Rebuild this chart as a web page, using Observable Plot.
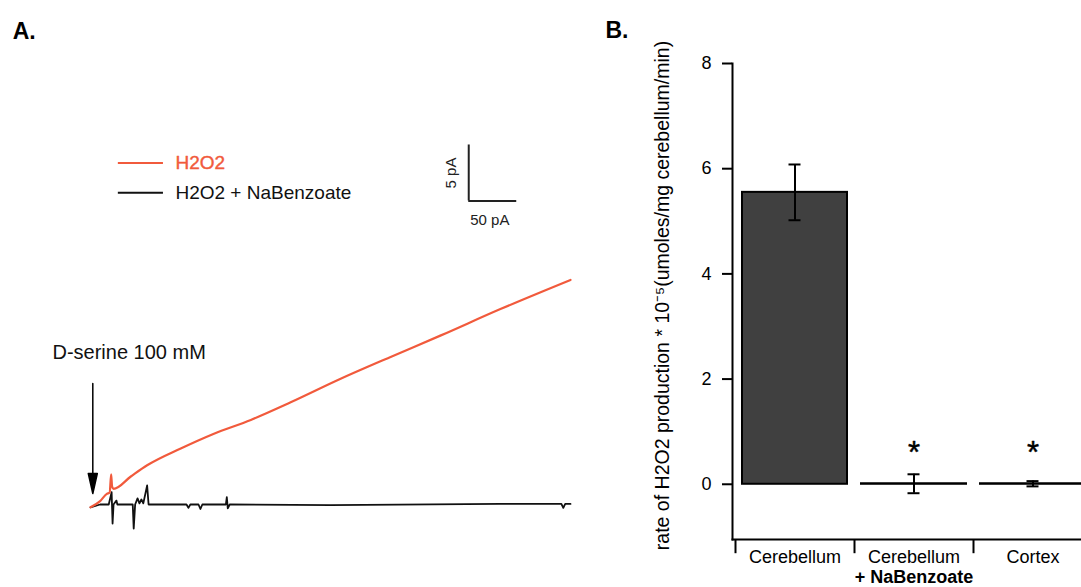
<!DOCTYPE html>
<html>
<head>
<meta charset="utf-8">
<script src="https://cdn.jsdelivr.net/npm/d3@7"></script>
<script src="https://cdn.jsdelivr.net/npm/@observablehq/plot@0.6"></script>
<style>
  html, body { margin: 0; padding: 0; background: white; }
  body { width: 1081px; height: 587px; overflow: hidden; position: relative; font-family: "Liberation Sans", Arial, sans-serif; }
  #panelA { position: absolute; left: 0; top: 0; width: 600px; height: 587px; }
  #panelB { position: absolute; left: 600px; top: 0; width: 481px; height: 587px; }
</style>
</head>
<body>
<div id="panelA"></div>
<div id="panelB"></div>
<script>
// ---------- Panel A: amperometric traces (time in s, current in pA) ----------
const redTime = [0, 10, 17, 20, 21.5, 22.5, 24, 42, 59, 94, 128, 167, 208, 260, 312, 365, 427, 500];
const redCurrent = [-0.25, 0.3, 0.95, 1.05, 2.7, 1.6, 1.4, 2.5, 3.5, 5.0, 6.3, 7.55, 9.1, 11.2, 13.15, 15.1, 17.45, 20.05];

const blackTime = [0, 10, 19, 22, 23, 24, 27, 28, 44, 45, 46.5, 49, 51, 53, 55, 59, 60.5, 100, 102, 104, 112.5, 114.5, 116.5, 141, 142, 143, 145, 250, 427, 490.5, 492.5, 494.5, 500];
const blackCurrent = [-0.25, 0, 0, 1.1, -1.7, 0, 0.35, 0, 0, -2.15, 0, 0.55, 0.1, 0.45, 0.1, 1.7, 0, 0, -0.3, 0, 0, -0.4, 0, 0, 0.65, -0.35, 0, -0.05, 0.05, 0.05, -0.3, 0.05, 0.05];

const seriesNames = ["H2O2", "H2O2 + NaBenzoate"];
const seriesColors = ["#f15a3c", "#111111"];
const stimulusLabel = "D-serine 100 mM";
const scaleBarTime = 50;      // labelled "50 pA" in the original
const scaleBarCurrent = 5;    // pA
const scaleBarLabels = ["5 pA", "50 pA"];

// ---------- Panel B: H2O2 production rate ----------
const categories = ["Cerebellum", "Cerebellum + NaBenzoate", "Cortex"];
const labelLine1 = ["Cerebellum", "Cerebellum", "Cortex"];
const labelLine2 = ["", "+ NaBenzoate", ""];
const rates = [5.55, 0.01, 0.01];
const errors = [0.53, 0.18, 0.05];
const significance = ["", "*", "*"];
const yTicks = [0, 2, 4, 6, 8];
const yLabel = "rate of H2O2 production * 10\u207B\u2075(umoles/mg cerebellum/min)";

const FONT = "Liberation Sans, Arial, sans-serif";

const red = redTime.map((t, i) => ({t, v: redCurrent[i]}));
const black = blackTime.map((t, i) => ({t, v: blackCurrent[i]}));

const arrowShape = {
  draw(context, l) {
    context.moveTo(0, 0);
    context.lineTo(0, -l + 18);
    context.moveTo(-4.5, -l + 20);
    context.lineTo(0, -l);
    context.lineTo(4.5, -l + 20);
    context.closePath();
  }
};

const sbX = 394, sbY = 27.1;

const plotA = Plot.plot({
  width: 600,
  height: 587,
  marginTop: 0, marginRight: 0, marginBottom: 0, marginLeft: 0,
  style: {fontFamily: FONT, background: "white", overflow: "visible"},
  x: {domain: [0, 500], range: [90, 570], axis: null},
  y: {domain: [0, 20], range: [504, 280], axis: null},
  marks: [
    Plot.line(black, {x: "t", y: "v", stroke: seriesColors[1], strokeWidth: 1.8, strokeLinejoin: "round"}),
    Plot.line(red, {x: "t", y: "v", stroke: seriesColors[0], strokeWidth: 2.2, strokeLinejoin: "round", curve: "monotone-x"}),
    // panel label
    Plot.text(["A."], {x: -81, y: 42.2, text: d => d, textAnchor: "start", lineAnchor: "middle", fontSize: 23, fontWeight: "bold", fill: "black"}),
    // legend
    Plot.ruleY([0], {y: 30.5, x1: 29, x2: 76, stroke: seriesColors[0], strokeWidth: 2}),
    Plot.ruleY([0], {y: 27.83, x1: 29, x2: 76, stroke: seriesColors[1], strokeWidth: 2}),
    Plot.text([seriesNames[0]], {x: 88.5, y: 30.5, text: d => d, textAnchor: "start", lineAnchor: "middle", fontSize: 19, fill: seriesColors[0], stroke: seriesColors[0], strokeWidth: 0.4}),
    Plot.text([seriesNames[1]], {x: 88.5, y: 27.83, text: d => d, textAnchor: "start", lineAnchor: "middle", fontSize: 19, fill: "#111"}),
    // scale bar
    Plot.ruleX([0], {x: sbX, y1: sbY, y2: sbY + scaleBarCurrent, stroke: "#222", strokeWidth: 2}),
    Plot.ruleY([0], {y: sbY, x1: sbX, x2: sbX + scaleBarTime, stroke: "#222", strokeWidth: 2}),
    Plot.text([scaleBarLabels[0]], {x: 376, y: 29.6, text: d => d, rotate: -90, textAnchor: "middle", lineAnchor: "middle", fontSize: 15, fill: "#222"}),
    Plot.text([scaleBarLabels[1]], {x: 416, y: 25.4, text: d => d, textAnchor: "middle", lineAnchor: "middle", fontSize: 15, fill: "#222"}),
    // stimulus marker
    Plot.text([stimulusLabel], {x: -39.6, y: 13.57, text: d => d, textAnchor: "start", lineAnchor: "middle", fontSize: 20, fill: "#111"}),
    Plot.vector([0], {x: 2.4, y: 10.8, length: 110, rotate: 180, anchor: "start", shape: arrowShape, fill: "black", stroke: "black", strokeWidth: 1.5})
  ]
});
document.getElementById("panelA").appendChild(plotA);

const barData = categories.map((c, i) => ({
  cat: c, value: rates[i], err: errors[i], line1: labelLine1[i], line2: labelLine2[i], sig: significance[i]
}));
const bw = (492 - 135) / categories.length;

const plotB = Plot.plot({
  width: 481,
  height: 587,
  marginTop: 63, marginRight: 0, marginBottom: 48, marginLeft: 132,
  style: {fontFamily: FONT, background: "white", color: "black"},
  x: {domain: categories, range: [135, 492], padding: 0, axis: null},
  y: {domain: [-1.05, 8], axis: null},
  marks: [
    Plot.barY(barData, {x: "cat", y: "value", fill: "#404040", stroke: "black", strokeWidth: 2, insetLeft: 7, insetRight: 7}),
    Plot.ruleX(barData, {x: "cat", y1: d => d.value - d.err, y2: d => d.value + d.err, stroke: "black", strokeWidth: 2}),
    Plot.tickY(barData, {x: "cat", y: d => d.value - d.err, insetLeft: bw / 2 - 6, insetRight: bw / 2 - 6, stroke: "black", strokeWidth: 2}),
    Plot.tickY(barData, {x: "cat", y: d => d.value + d.err, insetLeft: bw / 2 - 6, insetRight: bw / 2 - 6, stroke: "black", strokeWidth: 2}),
    Plot.text(barData, {x: "cat", y: 0.6, text: "sig", fontSize: 31, lineAnchor: "middle", fill: "black", stroke: "black", strokeWidth: 0.5}),
    // axes
    Plot.frame({anchor: "left", stroke: "black", strokeWidth: 2}),
    Plot.frame({anchor: "bottom", stroke: "black", strokeWidth: 2}),
    Plot.axisY({ticks: yTicks, tickSize: 10, tickPadding: 11, fontSize: 18, label: null, strokeWidth: 2, tickFormat: d => String(d)}),
    Plot.ruleX(categories, {x: d => d, dx: -bw / 2, y1: -1.05, y2: -1.32, stroke: "black", strokeWidth: 2}),
    Plot.text(barData, {x: "cat", text: "line1", frameAnchor: "bottom", dy: 18, lineAnchor: "middle", fontSize: 18, fill: "black"}),
    Plot.text(barData, {x: "cat", text: "line2", frameAnchor: "bottom", dy: 38, lineAnchor: "middle", fontSize: 18, fontWeight: "bold", fill: "black"}),
    Plot.text([yLabel], {text: d => d, frameAnchor: "left", dx: -70, dy: -6, rotate: -90, textAnchor: "middle", lineAnchor: "middle", fontSize: 19.5, fill: "black"}),
    Plot.text(["B."], {text: d => d, frameAnchor: "top-left", dx: -127, dy: -32.5, textAnchor: "start", lineAnchor: "middle", fontSize: 23, fontWeight: "bold", fill: "black"})
  ]
});
document.getElementById("panelB").appendChild(plotB);
</script>
</body>
</html>
